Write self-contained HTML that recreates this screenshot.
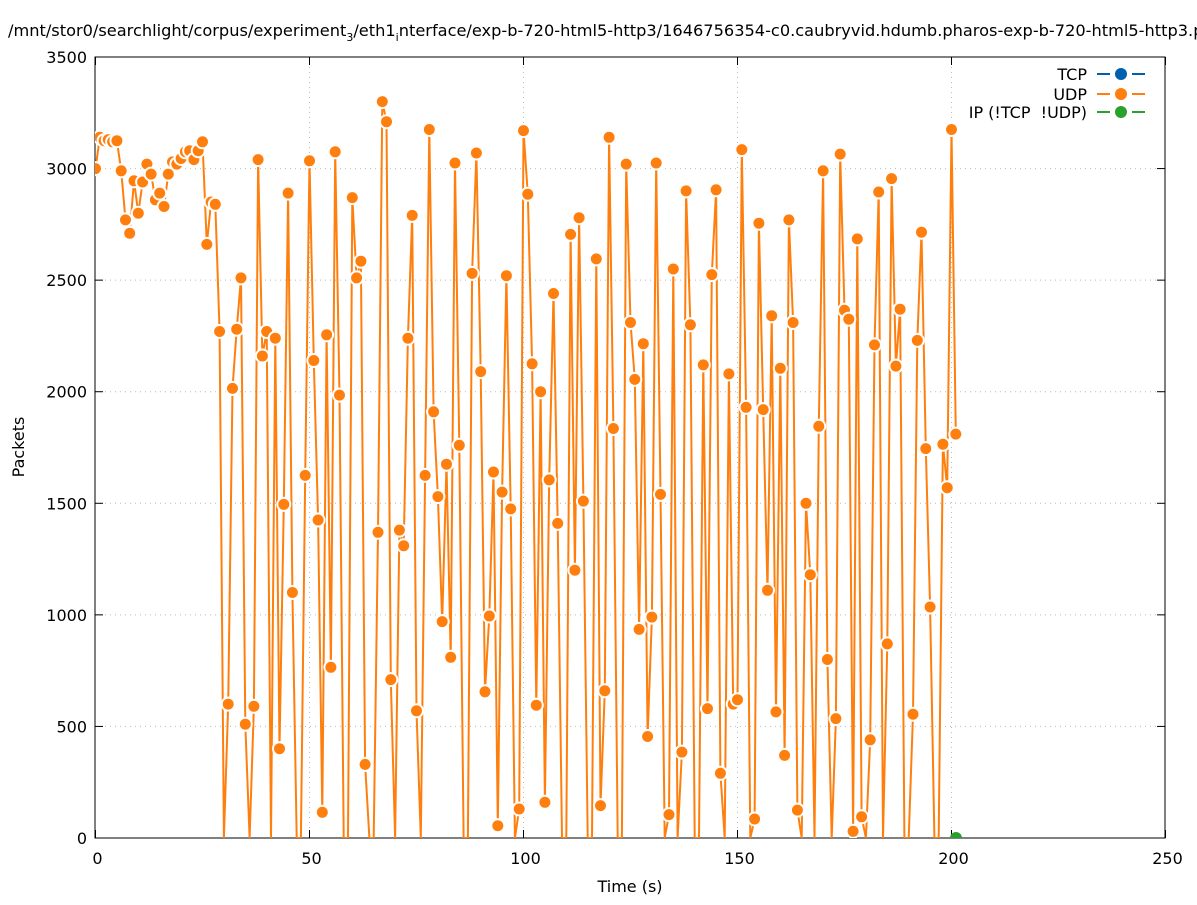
<!DOCTYPE html>
<html><head><meta charset="utf-8"><style>
html,body{margin:0;padding:0;background:#fff;overflow:hidden;}
svg text{font-family:"DejaVu Sans","Liberation Sans",sans-serif;}
</style></head><body>
<svg id="s" width="1197" height="900" xmlns="http://www.w3.org/2000/svg"></svg>
<script>
const v=[3000,3140,3125,3130,3120,3125,2990,2770,2710,2945,2800,2940,3020,2975,2860,2890,2830,2975,3030,3020,3045,3075,3080,3040,3080,3120,2660,2850,2840,2270,0,600,2015,2280,2510,510,0,590,3040,2160,2270,0,2240,400,1495,2890,1100,0,0,1625,3035,2140,1425,115,2255,765,3075,1985,0,0,2870,2510,2585,330,0,0,1370,3300,3210,710,0,1380,1310,2240,2790,570,0,1625,3175,1910,1530,970,1675,810,3025,1760,0,0,2530,3070,2090,655,995,1640,55,1550,2520,1475,0,130,3170,2885,2125,595,2000,160,1605,2440,1410,0,0,2705,1200,2780,1510,0,0,2595,145,660,3140,1835,0,0,3020,2310,2055,935,2215,455,990,3025,1540,0,105,2550,0,385,2900,2300,0,0,2120,580,2525,2905,290,0,2080,600,620,3085,1930,0,85,2755,1920,1110,2340,565,2105,370,2770,2310,125,0,1500,1180,0,1845,2990,800,0,535,3065,2365,2325,30,2685,95,0,440,2210,2895,0,870,2955,2115,2370,0,0,555,2230,2715,1745,1035,0,0,1765,1570,3175,1810];
const X=t=>95.5+t*1070/250, Y=p=>838-p*781/3500;
let h='';
h+='<text x="8" y="36" font-size="16.2">/mnt/stor0/searchlight/corpus/experiment<tspan font-size="11" dy="5">3</tspan><tspan dy="-5">/eth1</tspan><tspan font-size="11" dy="5">i</tspan><tspan dy="-5">nterface/exp-b-720-html5-http3/1646756354-c0.caubryvid.hdumb.pharos-exp-b-720-html5-http3.pcap</tspan></text>';
for(let i=0;i<=7;i++){const y=Y(i*500);
 if(i>0&&i<7)h+=`<line x1="95" x2="1165" y1="${y}" y2="${y}" stroke="#bbb" stroke-dasharray="1,4"/>`;
 h+=`<line x1="95" x2="103" y1="${y}" y2="${y}" stroke="#000"/><line x1="1157" x2="1165" y1="${y}" y2="${y}" stroke="#000"/>`;
 h+=`<text x="87" y="${y+6}" font-size="16" text-anchor="end">${i*500}</text>`;}
for(let i=0;i<=5;i++){const x=X(i*50);
 if(i>0&&i<5)h+=`<line x1="${x}" x2="${x}" y1="57" y2="838" stroke="#bbb" stroke-dasharray="1,4"/>`;
 h+=`<line x1="${x}" x2="${x}" y1="838" y2="830" stroke="#000"/><line x1="${x}" x2="${x}" y1="57" y2="65" stroke="#000"/>`;
 h+=`<text x="${x+2}" y="864" font-size="16" text-anchor="middle">${i*50}</text>`;}
h+='<rect x="95" y="57" width="1070" height="781" fill="none" stroke="#000"/>';
h+='<text x="630" y="892" font-size="16" text-anchor="middle">Time (s)</text>';
h+='<text transform="translate(24,447) rotate(-90)" font-size="16" text-anchor="middle">Packets</text>';
h+='<clipPath id="c"><rect x="95" y="57" width="1070" height="781"/></clipPath><g clip-path="url(#c)">';
h+='<polyline fill="none" stroke="#ff7f0e" stroke-width="2" points="'+v.map((p,t)=>X(t).toFixed(1)+','+Y(p).toFixed(1)).join(' ')+'"/>';
for(let t=0;t<v.length;t++)if(v[t]>0)h+=`<circle cx="${X(t).toFixed(1)}" cy="${Y(v[t]).toFixed(1)}" r="6.5" fill="#ff7f0e" stroke="#fff" stroke-width="2"/>`;
h+=`<circle cx="956" cy="838" r="6" fill="#2ca02c"/></g>`;
const L=[["TCP","#0060ad",74],["UDP","#ff7f0e",94],["IP (!TCP  !UDP)","#2ca02c",112]];
for(const [n,c,y] of L){h+=`<text x="1087" y="${y+6}" font-size="16" text-anchor="end" xml:space="preserve">${n}</text><line x1="1097" x2="1145" y1="${y}" y2="${y}" stroke="${c}" stroke-width="2"/><rect x="1110" y="${y-3}" width="22" height="6" fill="#fff"/><circle cx="1121" cy="${y}" r="6" fill="${c}"/>`;}
document.getElementById('s').innerHTML=h;
</script>
</body></html>
